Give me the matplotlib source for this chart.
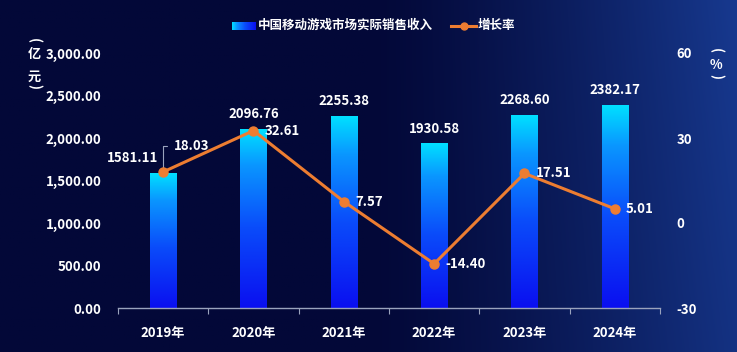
import numpy as np
import matplotlib.pyplot as plt
from matplotlib.colors import LinearSegmentedColormap, to_rgb
from matplotlib.lines import Line2D

plt.rcParams['font.family'] = ['Noto Sans CJK SC', 'DejaVu Sans']
plt.rcParams['font.weight'] = 'bold'
plt.rcParams['axes.unicode_minus'] = False

# 数据
years = ['2019年', '2020年', '2021年', '2022年', '2023年', '2024年']
revenue = [1581.11, 2096.76, 2255.38, 1930.58, 2268.60, 2382.17]
growth = [18.03, 32.61, 7.57, -14.40, 17.51, 5.01]
rev_ticks = [0, 500, 1000, 1500, 2000, 2500, 3000]
growth_ticks = [-30, 0, 30, 60]

bar_label = '中国移动游戏市场实际销售收入'
line_label = '增长率'

W, H = 737, 352
fig = plt.figure(figsize=(W / 100, H / 100), dpi=100)

# 背景渐变
bg_ax = fig.add_axes([0, 0, 1, 1], zorder=-10)
bg_ax.axis('off')
xx, yy = np.meshgrid(np.linspace(0, 1, 400), np.linspace(0, 1, 200))
t = np.clip((xx - 0.5) / 0.5, 0, 1) ** 1.3 * (0.85 + 0.15 * (1 - yy))
dark = np.array(to_rgb('#030838'))
blue = np.array(to_rgb('#17398f'))
bg = dark[None, None, :] * (1 - t[..., None]) + blue[None, None, :] * t[..., None]
bg_ax.imshow(bg, extent=[0, 1, 0, 1], aspect='auto', origin='upper')
bg_ax.set_xlim(0, 1)
bg_ax.set_ylim(0, 1)

ax = fig.add_axes([118 / W, 44 / H, 542 / W, 255 / H])
ax.patch.set_alpha(0)
x = np.arange(len(years))

bar_cmap = LinearSegmentedColormap.from_list(
    'bar', [(0, '#0a0ff0'), (0.45, '#0a4cfa'), (0.8, '#0a96ff'), (1, '#00e0ff')])
bars = ax.bar(x, revenue, width=0.29, color='none', zorder=2)
grad = np.linspace(0, 1, 256).reshape(-1, 1)
for b in bars:
    x0, y0 = b.get_x(), b.get_y()
    ax.imshow(grad, extent=[x0, x0 + b.get_width(), y0, y0 + b.get_height()],
              aspect='auto', origin='lower', cmap=bar_cmap, zorder=2)

ax.set_xlim(-0.5, len(years) - 0.5)
ax.set_ylim(0, 3000)
ax.set_yticks(rev_ticks)
ax.set_yticklabels([f'{v:,.2f}' for v in rev_ticks])
ax.tick_params(axis='y', length=0, pad=12, labelcolor='white', labelsize=9.5)

ax.set_xticks(np.arange(-0.5, len(years), 1.0))
ax.set_xticklabels([])
ax.set_xticks(x, minor=True)
ax.set_xticklabels(years, minor=True)
ax.tick_params(axis='x', which='major', length=4, color='#9aa3bd', direction='out')
ax.tick_params(axis='x', which='minor', length=0, pad=13, labelcolor='white', labelsize=9.5)

for s in ['top', 'left', 'right']:
    ax.spines[s].set_visible(False)
ax.spines['bottom'].set_color('#9aa3bd')
ax.spines['bottom'].set_linewidth(1)

# 柱子数值
for i, v in enumerate(revenue):
    dx = -22 if i == 0 else 0
    ax.annotate(f'{v:.2f}', (x[i], v), xytext=(dx, 11), textcoords='offset points',
                ha='center', va='center', color='white', fontsize=9.5, fontweight='bold')

ax2 = ax.twinx()
ax2.plot(x, growth, color='#ed7d31', linewidth=2.2, marker='o', markersize=6.5, zorder=5)
ax2.set_ylim(-30, 60)
ax2.set_yticks(growth_ticks)
ax2.tick_params(axis='y', length=0, pad=12, labelcolor='white', labelsize=9.5)
for s in ax2.spines.values():
    s.set_visible(False)

for i, v in enumerate(growth):
    if i == 0:
        ax2.annotate(f'{v:.2f}', (x[i], v), xytext=(8, 19), textcoords='offset points',
                     ha='left', va='center', color='white', fontsize=9.5, fontweight='bold',
                     arrowprops=dict(arrowstyle='-', color='#9aa3bd', lw=0.8,
                                     connectionstyle='angle,angleA=0,angleB=90,rad=0',
                                     shrinkA=3, shrinkB=2))
    else:
        ax2.annotate(f'{v:.2f}', (x[i], v), xytext=(8, 0), textcoords='offset points',
                     ha='left', va='center', color='white', fontsize=9.5, fontweight='bold')

# 单位
for ch, yp, rot in [('(', 40, -90), ('亿', 54, 0), ('元', 77, 0), (')', 87, -90)]:
    fig.text(34 / W, 1 - yp / H, ch, color='white', fontsize=9.5, ha='center', va='center', rotation=rot)
for ch, yp, rot in [('(', 50, -90), ('%', 65, 0), (')', 76, -90)]:
    fig.text(716 / W, 1 - yp / H, ch, color='white', fontsize=9.5, ha='center', va='center', rotation=rot)

# 图例
leg_ax = fig.add_axes([232 / W, 1 - 30 / H, 23 / W, 8 / H])
leg_ax.axis('off')
leg_ax.imshow(np.linspace(1, 0, 64).reshape(1, -1), aspect='auto', cmap=bar_cmap)
fig.text(258 / W, 1 - 25 / H, bar_label, color='white', fontsize=9, ha='left', va='center')
fig.add_artist(Line2D([451 / W, 476 / W], [1 - 26 / H, 1 - 26 / H], color='#ed7d31', linewidth=2.2,
                      transform=fig.transFigure))
fig.add_artist(Line2D([463.5 / W], [1 - 26 / H], color='#ed7d31', marker='o', markersize=5,
                      transform=fig.transFigure))
fig.text(478 / W, 1 - 25 / H, line_label, color='white', fontsize=9, ha='left', va='center')

fig.savefig('out.png', dpi=100)
